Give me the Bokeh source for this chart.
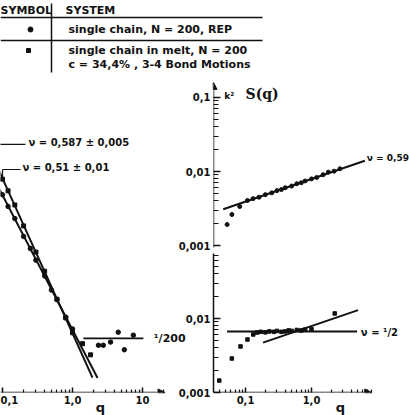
from bokeh.plotting import figure
from bokeh.layouts import column, row
from bokeh.models import Range1d, FixedTicker, Arrow, NormalHead, Label
from bokeh.core.properties import value
from bokeh.embed import file_html
from bokeh.resources import INLINE

# ---------------- data ----------------
# S(q) of a single chain, N = 200 (REP, circles) and of a chain in the melt (squares)
rep_q = [0.1, 0.12, 0.15, 0.2, 0.25, 0.3, 0.4, 0.5, 0.6, 0.8, 1.0, 2.35, 2.75, 3.5, 4.5, 5.5, 7.4]
rep_s = [0.33, 0.235, 0.165, 0.098, 0.069, 0.049, 0.031, 0.0205, 0.0155, 0.0093, 0.0066,
         0.0041, 0.0041, 0.0045, 0.0060, 0.0036, 0.0055]
melt_q = [0.1, 0.12, 0.15, 0.2, 0.3, 0.4, 0.6, 0.8, 1.0, 1.39, 1.81]
melt_s = [0.52, 0.37, 0.245, 0.133, 0.062, 0.0355, 0.0157, 0.0091, 0.0059, 0.0043, 0.0031]

# power-law fits S = A q^(-1/nu)
nu_rep, amp_rep, qrange_rep = 0.587, 0.00644, (0.08, 2.28)
nu_melt, amp_melt, qrange_melt = 0.51, 0.0058, (0.08, 1.93)
n_chain = 200
plateau_q = (1.43, 10.3)

# Kratky-type representation, upper panel (single chain)
top_q = [0.0526, 0.0622, 0.0816, 0.107, 0.13, 0.16, 0.2, 0.25, 0.3, 0.35, 0.4, 0.5, 0.6,
         0.7, 0.8, 1.0, 1.2, 1.5, 1.8, 2.2, 2.7]
top_s = [0.00192, 0.00262, 0.00336, 0.00406, 0.0043, 0.00449, 0.00487, 0.00515, 0.00552,
         0.0057, 0.00603, 0.00636, 0.00684, 0.00705, 0.00745, 0.00795, 0.0083, 0.00905,
         0.0098, 0.0101, 0.0109]
nu_top, amp_top, qrange_top = 0.59, 0.00791, (0.0459, 6.44)

# lower panel (chain in the melt)
bot_q = [0.040, 0.062, 0.084, 0.107, 0.131, 0.15, 0.17, 0.2, 0.23, 0.27, 0.3, 0.35, 0.4,
         0.45, 0.5, 0.6, 0.7, 0.8, 1.0, 2.25]
bot_s = [0.00145, 0.00288, 0.00419, 0.0052, 0.00608, 0.00647, 0.0066, 0.0065, 0.0067,
         0.0066, 0.0068, 0.0066, 0.0067, 0.0069, 0.0068, 0.0070, 0.0069, 0.0071, 0.0072, 0.0117]
nu_gauss, level_gauss, qrange_gauss = 0.5, 0.00667, (0.0525, 4.91)
qrange_cmp = (0.184, 5.09)

FONT = "DejaVu Sans"
BLACK = "#111111"


def power_line(amp, expo, qr):
    return list(qr), [amp * q ** expo for q in qr]


def log_minor(decades, upto=9):
    out = []
    for d in decades:
        out += [k * d for k in range(2, upto + 1)]
    return out


def style_axis(ax, ticks, minor, labels, tick_in=5, minor_in=3):
    ax.ticker = FixedTicker(ticks=ticks, minor_ticks=minor)
    ax.major_label_overrides = labels
    ax.major_tick_in = tick_in
    ax.major_tick_out = 0
    ax.minor_tick_in = minor_in
    ax.minor_tick_out = 0
    ax.major_tick_line_color = BLACK
    ax.minor_tick_line_color = BLACK
    ax.major_tick_line_width = 1.5
    ax.minor_tick_line_width = 1.2
    ax.major_label_text_font = FONT
    ax.major_label_text_font_style = "bold"
    ax.major_label_text_font_size = "10px"
    ax.major_label_text_color = BLACK
    ax.major_label_standoff = 3


def base_fig(**kw):
    p = figure(x_axis_type="log", y_axis_type="log", toolbar_location=None,
               output_backend="svg", **kw)
    p.grid.visible = False
    p.outline_line_color = None
    p.background_fill_color = None
    p.border_fill_color = None
    return p


def flat_fig(w, h, **kw):
    # a plain canvas measured in pixels, y growing downwards
    p = figure(width=w, height=h, x_range=Range1d(0, w), y_range=Range1d(h, 0),
               toolbar_location=None, output_backend="svg",
               min_border=0, min_border_left=0, min_border_right=0,
               min_border_top=0, min_border_bottom=0, **kw)
    p.axis.visible = False
    p.grid.visible = False
    p.outline_line_color = None
    p.background_fill_color = None
    p.border_fill_color = None
    return p


def arrow(p, x0, y0, x1, y1):
    p.add_layout(Arrow(end=NormalHead(size=7, fill_color=BLACK, line_color=BLACK),
                       x_start=x0, y_start=y0, x_end=x1, y_end=y1,
                       line_color=BLACK, line_width=1.5))


def label(p, x, y, text, size="10px", font=FONT, style="bold", **kw):
    p.add_layout(Label(x=x, y=y, text=text, text_font=font,
                       text_font_size=size, text_font_style=style, text_color=BLACK,
                       text_baseline="middle", **kw))


# ---------------- header table ----------------
head = flat_fig(409, 78)
head.text(x=[0, 65], y=[10, 10], text=["SYMBOL", "SYSTEM"], text_font=value(FONT),
          text_font_size="11px", text_font_style="bold", text_baseline="middle",
          text_color=BLACK)
head.text(x=[68, 68, 68], y=[29, 50, 64],
          text=["single chain, N = 200, REP", "single chain in melt, N = 200",
                "c = 34,4% , 3-4 Bond Motions"],
          text_font=value(FONT), text_font_size="11px", text_font_style="bold",
          text_baseline="middle", text_color=BLACK)
head.segment(x0=[0, 0, 51], y0=[17, 40, 3], x1=[262, 262, 51], y1=[17, 40, 72],
             line_color=BLACK, line_width=1.5)
head.scatter(x=[30], y=[29], marker="circle", size=5, color=BLACK)
head.scatter(x=[28], y=[50], marker="square", size=4, color=BLACK)

# ---------------- left: S(q) ----------------
# the canvas is wider than its slot and slides under the (transparent) right column
lx0, lx1 = 0.0936, 10 ** 1.9
ly0, ly1 = 10 ** -2.985, 10 ** 0.990
left = base_fig(width=205, height=337, x_range=Range1d(lx0, lx1), y_range=Range1d(ly0, ly1),
                min_border_left=0, min_border_right=0, min_border_top=0, min_border_bottom=23,
                styles={"margin-right": "-30px"})
left.yaxis.visible = False
style_axis(left.xaxis[0], [0.1, 1, 10], log_minor([0.1, 1], 9) + [20],
           {0.1: "0,1", 1: "1,0", 10: "10"})
left.xaxis[0].axis_line_color = None
arrow(left, lx0, ly0, 21, ly0)

xs, ys = power_line(amp_rep, -1 / nu_rep, qrange_rep)
left.line(xs, ys, line_color=BLACK, line_width=2)
xs, ys = power_line(amp_melt, -1 / nu_melt, qrange_melt)
left.line(xs, ys, line_color=BLACK, line_width=2)
left.line(list(plateau_q), [1 / n_chain, 1 / n_chain], line_color=BLACK, line_width=1.8)
left.scatter(rep_q, rep_s, marker="circle", size=4.5, color=BLACK)
left.scatter(melt_q, melt_s, marker="square", size=4, color=BLACK)

# leaders for the fitted exponents
left.line([0.09, 0.213], [1.43, 1.43], line_color=BLACK, line_width=1.2)
left.line([0.1, 0.181], [0.689, 0.689], line_color=BLACK, line_width=1.2)
left.line([0.1, 0.1], [0.689, 0.53], line_color=BLACK, line_width=1.2)
label(left, 0.235, 1.51, "ν = 0,587 ± 0,005")
label(left, 0.193, 0.72, "ν = 0,51 ± 0,01")
label(left, 14.5, 1 / n_chain, "¹/200", size="11px")

# ---------------- right: two stacked panels ----------------
rx0, rx1 = 0.0327, 30.6

ty0, ty1 = 0.00094, 0.1806
rtop = base_fig(width=234, height=175, x_range=Range1d(rx0, rx1), y_range=Range1d(ty0, ty1),
                min_border_left=32, min_border_right=0, min_border_top=0, min_border_bottom=6)
rtop.xaxis.visible = False
style_axis(rtop.yaxis[0], [0.001, 0.01, 0.1], log_minor([0.001, 0.01], 9),
           {0.001: "0,001", 0.01: "0,01", 0.1: "0,1"}, tick_in=7, minor_in=5)
rtop.yaxis[0].axis_line_color = None
arrow(rtop, rx0, 0.00078, rx0, 0.16)
xs, ys = power_line(amp_top, 2 - 1 / nu_top, qrange_top)
rtop.line(xs, ys, line_color=BLACK, line_width=2)
rtop.scatter(top_q, top_s, marker="circle", size=4, color=BLACK)
label(rtop, 6.9, 0.0150, "ν = 0,59", size="9px")
label(rtop, 0.0475, 0.104, "k²", size="9px")
label(rtop, 0.1, 0.112, "S(q)", size="14px", font="DejaVu Serif")

by0, by1 = 0.001, 0.0756
rbot = base_fig(width=234, height=162, x_range=Range1d(rx0, rx1), y_range=Range1d(by0, by1),
                min_border_left=32, min_border_right=0, min_border_top=0, min_border_bottom=23)
style_axis(rbot.yaxis[0], [0.001, 0.01], log_minor([0.001, 0.01], 9),
           {0.001: "0,001", 0.01: "0,01"}, tick_in=7, minor_in=5)
rbot.yaxis[0].axis_line_color = BLACK
rbot.yaxis[0].axis_line_width = 1.5
style_axis(rbot.xaxis[0], [0.1, 1], log_minor([0.01], 9)[2:] + log_minor([0.1], 9) + log_minor([1], 8),
           {0.1: "0,1", 1: "1,0"})
rbot.xaxis[0].axis_line_color = None
arrow(rbot, rx0, by0, 8.2, by0)

rbot.line(list(qrange_gauss), [level_gauss, level_gauss], line_color=BLACK, line_width=2)
xs, ys = power_line(amp_top, 2 - 1 / nu_top, qrange_cmp)
rbot.line(xs, ys, line_color=BLACK, line_width=2)
rbot.scatter(bot_q, bot_s, marker="square", size=3.5, color=BLACK)
label(rbot, 5.6, 0.0065, "ν = ¹/2")

# ---------------- axis titles "q", on a strip laid over the bottom edge ----------------
foot = flat_fig(409, 20, styles={"margin-top": "-20px"})
foot.text(x=[100, 340], y=[12, 12], text=["q", "q"], text_font=value(FONT),
          text_font_size="13px", text_font_style="bold", text_align="center",
          text_baseline="middle", text_color=BLACK)

layout = column(head, row(left, column(rtop, rbot)), foot)

with open("out.html", "w") as fh:
    fh.write(file_html(layout, INLINE))
